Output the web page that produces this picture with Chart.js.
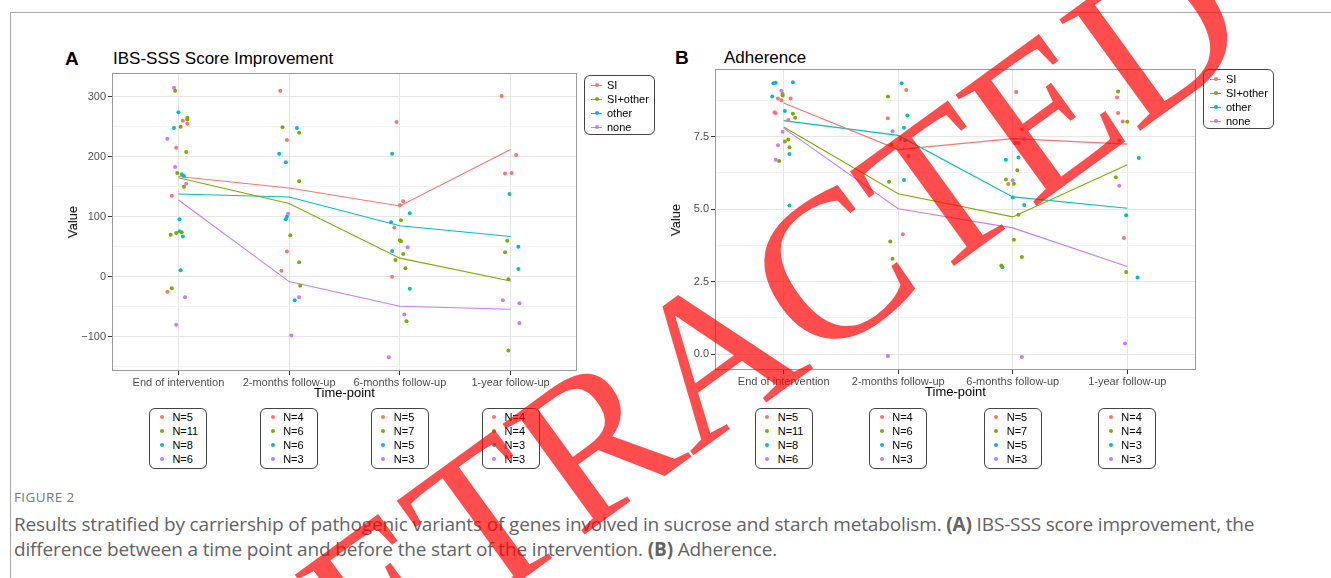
<!DOCTYPE html>
<html>
<head>
<meta charset="utf-8">
<script src="https://cdn.jsdelivr.net/npm/chart.js@4.4.1/dist/chart.umd.min.js"></script>
<style>
  body { margin: 0; width: 1331px; height: 578px; background: #fff; position: relative; overflow: hidden;
         font-family: "Liberation Sans", Arial, sans-serif; color: #000; }
  .abs { position: absolute; white-space: nowrap; }
  .frame-top { left: 10px; top: 12px; width: 1321px; border-top: 1px solid #a8a8a8; }
  .frame-left { left: 10px; top: 12px; height: 566px; border-left: 1px solid #a8a8a8; }
  .tag { font-size: 19px; font-weight: bold; line-height: 20px; }
  .title { font-size: 17px; line-height: 20px; }
  .axt { font-size: 13px; line-height: 16px; }
  .box { position: absolute; border: 1px solid #444; border-radius: 6px; box-sizing: border-box; background: #fff; }
  .row { position: absolute; font-size: 11px; line-height: 12px; }
  .dot { position: absolute; width: 4px; height: 4px; border-radius: 50%; }
  .seg { position: absolute; height: 1px; width: 11px; }
  .cap { font-family: "Open Sans", sans-serif; color: #636363; }
  .stamp { font-family: "Liberation Serif", serif; font-size: 210px; line-height: 1; color: rgba(255, 0, 0, 0.7);
           transform: translate(-50%, -50%) rotate(-36deg); pointer-events: none; z-index: 10; }
  canvas { position: absolute; }
</style>
</head>
<body>
<div class="abs frame-top"></div>
<div class="abs frame-left"></div>

<div class="abs tag" style="left:65px;top:49px;">A</div>
<div class="abs title" style="left:113px;top:49px;">IBS-SSS Score Improvement</div>
<div class="abs tag" style="left:675px;top:48px;">B</div>
<div class="abs title" style="left:724px;top:48px;">Adherence</div>

<canvas id="chartA" width="535" height="345" style="left:55px;top:60px;"></canvas>
<canvas id="chartB" width="550" height="350" style="left:655px;top:56px;"></canvas>

<div class="abs cap" style="left:14px;top:488px;font-size:13.5px;line-height:18px;color:#777;letter-spacing:0.4px;">FIGURE 2</div>
<div class="abs cap" style="left:14px;top:512px;font-size:19px;line-height:24px;letter-spacing:-0.15px;">Results stratified by carriership of pathogenic variants of genes involved in sucrose and starch metabolism. <b>(A)</b> IBS-SSS score improvement, the</div>
<div class="abs cap" style="left:14px;top:537px;font-size:19px;line-height:24px;letter-spacing:-0.15px;">difference between a time point and before the start of the intervention. <b>(B)</b> Adherence.</div>

<div class="abs stamp" style="left:716px;top:351px;">RETRACTED</div>

<script>
const timepoints = ["End of intervention", "2-months follow-up", "6-months follow-up", "1-year follow-up"];
const groups = ["SI", "SI+other", "other", "none"];
const groupColors = ["#F8766D", "#7CAE00", "#00BFC4", "#C77CFF"];

// participants per group at each time point (same for both panels)
const nEnd = [5, 11, 8, 6];
const n2m = [4, 6, 6, 3];
const n6m = [5, 7, 5, 3];
const n1y = [4, 4, 3, 3];

// A: IBS-SSS score improvement, group means
const ibsMeanSI = [167, 148, 118, 212];
const ibsMeanSIother = [165, 122, 31, -7];
const ibsMeanOther = [138, 133, 85, 67];
const ibsMeanNone = [128, -8, -49, -54];

// A: individual values, [jittered time index, value]
const ibsPtsSI = [
    [1.04, 260], [1.08, 255], [0.98, 215], [0.94, 135], [0.90, -25],
    [1.92, 310], [1.98, 228], [1.98, 42], [1.93, 10],
    [2.97, 258], [3.03, 126], [3.00, 119], [2.95, 82], [2.93, 0],
    [3.92, 301], [4.05, 203], [3.95, 172], [4.01, 173],
];
const ibsPtsSIother = [
    [0.97, 310], [1.08, 265], [1.08, 262], [1.02, 250], [1.07, 208], [0.99, 173], [1.05, 150],
    [0.93, 70], [0.98, 73], [1.03, 74], [0.94, -19],
    [1.94, 249], [2.09, 240], [2.09, 159], [2.01, 69], [2.09, 24], [2.10, -15],
    [3.01, 94], [3.00, 61], [3.01, 59], [3.03, 38], [2.96, 28], [3.05, 14], [3.06, -74],
    [3.97, 60], [3.95, 41], [3.98, -4], [3.98, -123],
];
const ibsPtsOther = [
    [1.00, 274], [0.96, 248], [1.03, 171], [1.05, 168], [1.01, 96], [1.01, 76], [1.04, 67], [1.02, 11],
    [2.07, 248], [1.91, 205], [1.97, 191], [1.98, 100], [1.97, 96], [2.05, -39],
    [2.93, 205], [3.09, 106], [2.92, 91], [2.93, 43], [3.09, -20],
    [3.99, 138], [4.07, 50], [4.07, 13],
];
const ibsPtsNone = [
    [0.96, 315], [0.90, 230], [0.97, 183], [1.07, 155], [1.06, -34], [0.98, -80],
    [1.99, 105], [2.09, -34], [2.02, -98],
    [3.07, 49], [3.04, -63], [2.90, -134],
    [3.93, -39], [4.08, -44], [4.08, -77],
];
const ibsTicks = [-150, -100, -50, 0, 50, 100, 150, 200, 250, 300];

// B: adherence, group means
const adhMeanSI = [8.66, 7.05, 7.43, 7.24];
const adhMeanSIother = [7.83, 5.53, 4.73, 6.53];
const adhMeanOther = [8.05, 7.54, 5.42, 5.03];
const adhMeanNone = [7.79, 5.01, 4.35, 3.02];

const adhPtsSI = [
    [0.95, 8.81], [0.98, 8.75], [1.06, 8.81], [1.04, 8.07], [0.92, 8.34],
    [2.07, 9.11], [1.91, 8.13], [2.09, 6.83], [2.04, 4.13],
    [3.03, 9.04], [3.08, 7.75], [3.02, 7.28], [3.05, 7.28], [2.96, 5.86],
    [3.91, 8.85], [3.92, 8.31], [3.96, 8.02], [3.93, 7.36], [3.97, 4.0],
];
const adhPtsSIother = [
    [0.99, 8.97], [0.99, 8.92], [1.08, 8.29], [1.10, 8.15], [1.01, 7.33], [1.04, 7.40], [1.05, 7.13], [0.96, 6.66],
    [1.91, 8.88], [1.94, 7.23], [1.92, 5.94], [1.93, 3.88], [1.95, 3.29],
    [3.04, 6.34], [2.94, 6.02], [3.01, 5.87], [3.05, 4.80], [3.01, 3.94], [3.08, 3.35], [2.90, 3.05],
    [3.92, 9.05], [4.00, 8.01], [3.90, 6.10], [3.99, 2.83],
];
const adhPtsOther = [
    [0.91, 9.34], [0.93, 9.36], [1.08, 9.37], [0.90, 8.88], [1.01, 8.38], [1.05, 6.90], [1.05, 5.12],
    [2.03, 9.34], [2.08, 8.23], [2.05, 7.80], [2.06, 7.37], [2.05, 6.0],
    [2.94, 6.70], [3.05, 6.78], [3.00, 5.40], [3.10, 5.14], [2.91, 2.99],
    [4.10, 6.76], [3.99, 4.79], [4.09, 2.64],
];
const adhPtsNone = [
    [0.98, 9.08], [0.93, 8.30], [0.99, 7.67], [0.95, 7.20], [0.93, 6.70],
    [1.95, 7.68], [2.02, 7.42], [1.91, -0.07],
    [3.10, 7.42], [3.00, 5.99], [3.08, -0.10],
    [3.93, 5.80], [3.98, 0.36],
];
const adhTicks = [0, 1.25, 2.5, 3.75, 5, 6.25, 7.5, 8.75];

const MAJOR = "#e6e6e6";
const MINOR = "#f3f3f3";
const TEXT = "#4d4d4d";

Chart.defaults.font.family = "'Liberation Sans', Arial, sans-serif";

const panelBorder = {
    id: "panelBorder",
    afterDraw(chart) {
        const a = chart.chartArea;
        const c = chart.ctx;
        c.save();
        c.strokeStyle = "#9a9a9a";
        c.lineWidth = 1;
        c.strokeRect(Math.round(a.left) + 0.5, Math.round(a.top) + 0.5,
            Math.round(a.right - a.left) - 1, Math.round(a.bottom - a.top) - 1);
        c.restore();
    },
};

function makeDatasets(means, points) {
    const sets = [];
    groups.forEach((g, i) => {
        sets.push({
            label: g + " pts",
            data: points[i].map((p) => ({ x: p[0], y: p[1] })),
            backgroundColor: groupColors[i],
            borderWidth: 0,
            pointRadius: 2,
            showLine: false,
        });
    });
    groups.forEach((g, i) => {
        sets.push({
            label: g,
            data: means[i].map((v, k) => ({ x: k + 1, y: v })),
            borderColor: groupColors[i],
            borderWidth: 1.1,
            pointRadius: 0,
            showLine: true,
        });
    });
    return sets;
}

function makeChart(id, opts) {
    return new Chart(document.getElementById(id), {
        type: "scatter",
        data: { datasets: makeDatasets(opts.means, opts.points) },
        options: {
            responsive: false,
            animation: false,
            devicePixelRatio: 1,
            layout: { padding: { top: opts.padTop, right: opts.padRight, left: 0, bottom: 0 } },
            plugins: { legend: { display: false }, tooltip: { enabled: false } },
            scales: {
                x: {
                    type: "linear", min: 0.4, max: 4.6,
                    afterBuildTicks: (s) => { s.ticks = timepoints.map((_, i) => ({ value: i + 1 })); },
                    afterFit: (s) => { s.height = opts.xHeight; },
                    grid: { color: MAJOR, tickColor: "#333", tickLength: 4 },
                    border: { display: false },
                    ticks: {
                        color: TEXT, font: { size: 11 }, maxRotation: 0, autoSkip: false, padding: 1,
                        callback: (v) => timepoints[Math.round(v) - 1] || "",
                    },
                },
                y: {
                    type: "linear", min: opts.yMin, max: opts.yMax,
                    afterBuildTicks: (s) => { s.ticks = opts.ticks.map((v) => ({ value: v })); },
                    afterFit: (s) => { s.width = opts.yWidth; },
                    grid: {
                        color: (ctx) => (opts.isMajor(ctx.tick.value) ? MAJOR : MINOR),
                        tickColor: (ctx) => (opts.isMajor(ctx.tick.value) ? "#333" : "rgba(0,0,0,0)"),
                        tickLength: 4,
                    },
                    border: { display: false },
                    ticks: {
                        color: TEXT, font: { size: 11 }, autoSkip: false, padding: 2,
                        callback: (v) => (opts.isMajor(v) ? opts.fmt(v) : ""),
                    },
                },
            },
        },
        plugins: [panelBorder],
    });
}

const chartA = makeChart("chartA", {
    means: [ibsMeanSI, ibsMeanSIother, ibsMeanOther, ibsMeanNone],
    points: [ibsPtsSI, ibsPtsSIother, ibsPtsOther, ibsPtsNone],
    yMin: -157, yMax: 339.5, ticks: ibsTicks,
    isMajor: (v) => Math.abs(v % 100) < 1e-6,
    fmt: (v) => (v < 0 ? "\u2212" + Math.abs(v) : String(v)),
    padTop: 13, padRight: 13, yWidth: 57, xHeight: 34,
});

const chartB = makeChart("chartB", {
    means: [adhMeanSI, adhMeanSIother, adhMeanOther, adhMeanNone],
    points: [adhPtsSI, adhPtsSIother, adhPtsOther, adhPtsNone],
    yMin: -0.55, yMax: 9.83, ticks: adhTicks,
    isMajor: (v) => Math.abs(v % 2.5) < 1e-6,
    fmt: (v) => v.toFixed(1),
    padTop: 13, padRight: 9, yWidth: 60, xHeight: 36,
});

function addEl(cls, style, text) {
    const el = document.createElement("div");
    el.className = cls;
    Object.assign(el.style, style);
    if (text !== undefined) el.textContent = text;
    document.body.appendChild(el);
    return el;
}

function decoratePanel(chart, left, top, legendTop) {
    const a = chart.chartArea;
    const sx = chart.scales.x;
    const plotL = left + a.left, plotR = left + a.right;
    const plotT = top + a.top, plotB = top + a.bottom;

    // axis titles
    addEl("abs axt", { left: (plotL - 39) + "px", top: ((plotT + plotB) / 2 - 8) + "px",
        transform: "translate(-50%,0) rotate(-90deg)" }, "Value");
    addEl("abs axt", { left: ((plotL + plotR) / 2) + "px", top: (plotB + 14) + "px",
        transform: "translate(-50%,0)" }, "Time-point");

    // colour legend
    const lg = addEl("box", { left: (plotR + 7) + "px", top: legendTop + "px", width: "71px", height: "60px" });
    groups.forEach((g, i) => {
        const y = 9.3 + 14 * i;
        const s = addEl("seg", { left: "6px", top: (y - 0.5) + "px", background: groupColors[i] });
        const d = addEl("dot", { left: "9.5px", top: (y - 2) + "px", background: groupColors[i] });
        const t = addEl("row", { left: "22px", top: (y - 6.5) + "px" }, g);
        lg.append(s, d, t);
    });

    // N boxes under each time point
    [nEnd, n2m, n6m, n1y].forEach((counts, k) => {
        const cx = left + sx.getPixelForValue(k + 1);
        const bx = addEl("box", { left: (cx - 29) + "px", top: "407.5px", width: "58px", height: "61px" });
        counts.forEach((n, i) => {
            const y = 8.6 + 14 * i;
            const d = addEl("dot", { left: "9.5px", top: (y - 2) + "px", background: groupColors[i] });
            const t = addEl("row", { left: "22px", top: (y - 6.5) + "px" }, "N=" + n);
            bx.append(d, t);
        });
    });
}

decoratePanel(chartA, 55, 60, 75);
decoratePanel(chartB, 655, 56, 69);
</script>
</body>
</html>
